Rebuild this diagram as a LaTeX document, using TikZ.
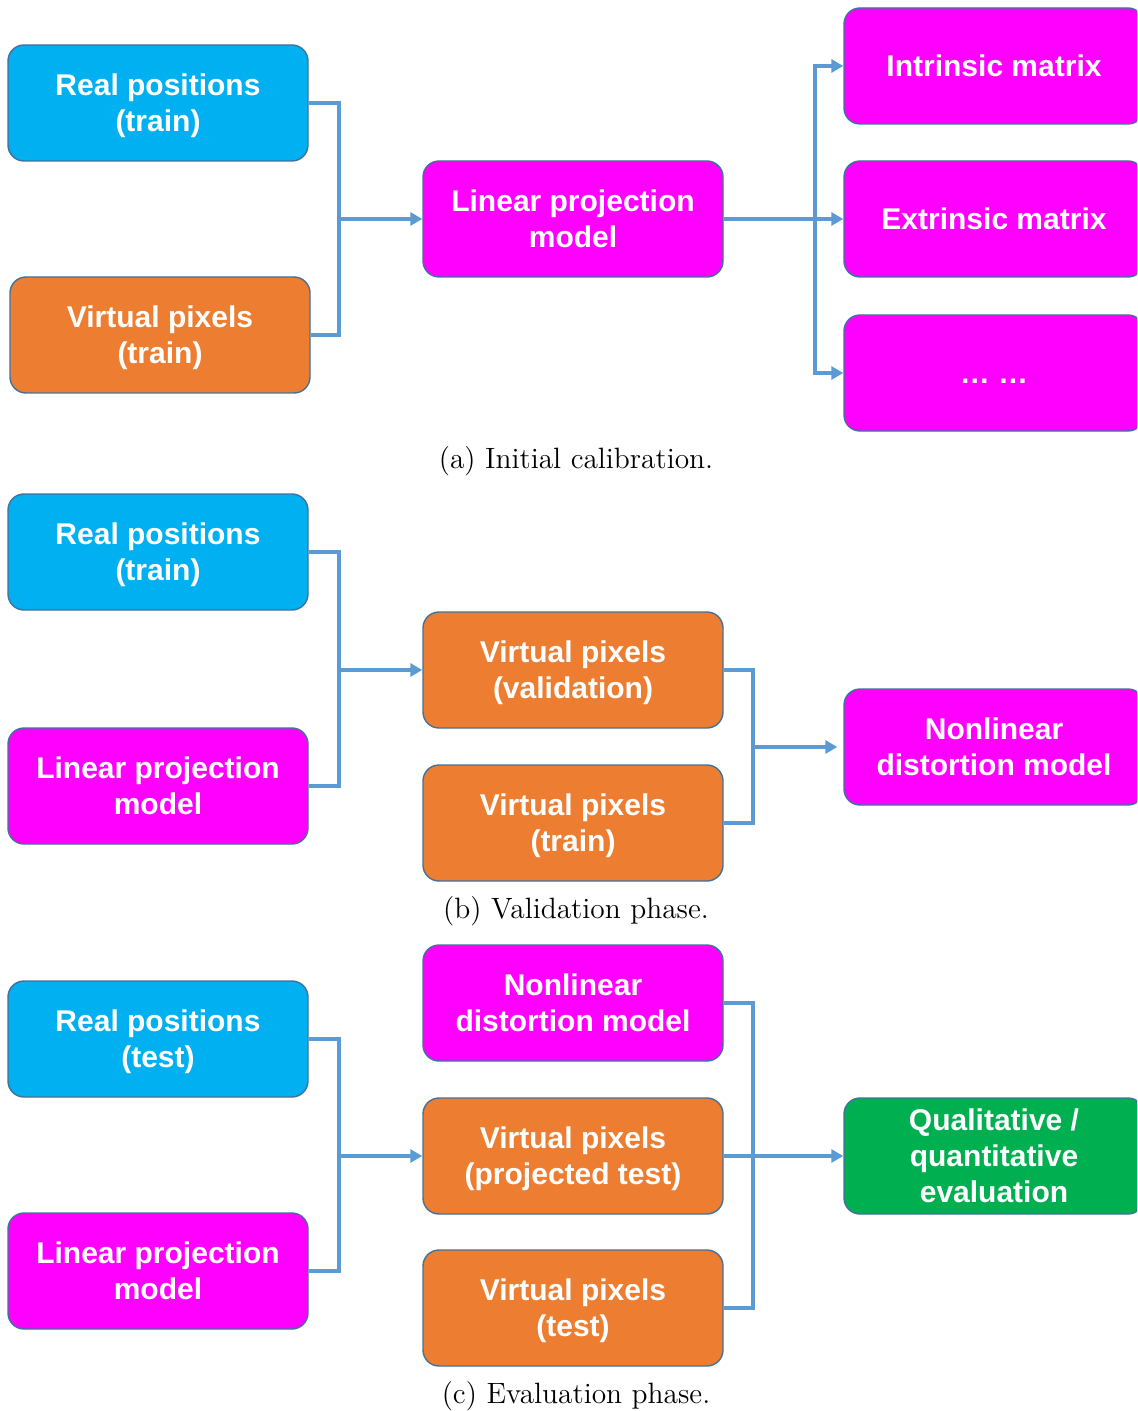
\documentclass[tikz,border=0pt]{standalone}
\usepackage{fontspec}
\setsansfont{Liberation Sans}
\usetikzlibrary{arrows.meta}
\definecolor{cblue}{HTML}{00B0F0}
\definecolor{corange}{HTML}{ED7D31}
\definecolor{cmag}{HTML}{FF00FF}
\definecolor{cgreen}{HTML}{00B050}
\definecolor{cline}{HTML}{5B9BD5}
\definecolor{cborder}{HTML}{41719C}
\newcommand{\bxs}{\rule[-3.6pt]{0pt}{18pt}}
\tikzset{
  box/.style={draw=cborder, line width=0.7pt, rounded corners=8pt, minimum width=150pt, minimum height=58pt,
    align=center, text=white, font=\sffamily\bfseries\fontsize{15}{18}\selectfont, inner sep=0pt},
  bluebox/.style={box, fill=cblue},
  orangebox/.style={box, fill=corange},
  magbox/.style={box, fill=cmag},
  greenbox/.style={box, fill=cgreen},
  conn/.style={draw=cline, line width=2pt, line join=miter},
  arr/.style={conn, -{Triangle[length=6pt,width=6.5pt]}},
  captext/.style={font=\fontsize{14.7}{17}\selectfont, inner sep=0pt}
}
\begin{document}
\begin{tikzpicture}[x=0.5pt,y=-0.5pt]
\useasboundingbox (0,0) rectangle (1137,1411);
\clip (0,0) rectangle (1137,1411);
% ---------- (a)
\node[bluebox] (rpa) at (158,103) {\bxs Real positions\\\bxs(train)};
\node[orangebox] (vpa) at (160,335) {\bxs Virtual pixels\\\bxs(train)};
\node[magbox] (lpa) at (573,219) {\bxs Linear projection\\\bxs model};
\node[magbox] (intr) at (994,66) {\bxs Intrinsic matrix};
\node[magbox] (extr) at (994,219) {\bxs Extrinsic matrix};
\node[magbox] (dots) at (994,373) {\bxs … …};
\coordinate (ja) at (339,219);
\coordinate (sa) at (815,219);
\draw[conn] (rpa.east) -| (ja) |- (vpa.east);
\draw[arr] (ja) -- (lpa.west);
\draw[arr] (lpa.east) -- (extr.west);
\draw[arr] (sa) |- (intr.west);
\draw[arr] (sa) |- (dots.west);
\node[captext] (capa) at (576,461) {(a) Initial calibration.};
% ---------- (b)
\node[bluebox] (rpb) at (158,552) {\bxs Real positions\\\bxs(train)};
\node[magbox] (lpb) at (158,786) {\bxs Linear projection\\\bxs model};
\node[orangebox] (vvb) at (573,670) {\bxs Virtual pixels\\\bxs(validation)};
\node[orangebox] (vtb) at (573,823) {\bxs Virtual pixels\\\bxs(train)};
\node[magbox] (nlb) at (994,747) {\bxs Nonlinear\\\bxs distortion model};
\coordinate (jb1) at (339,670);
\coordinate (jb2) at (753,747);
\draw[conn] (rpb.east) -| (jb1) |- (lpb.east);
\draw[arr] (jb1) -- (vvb.west);
\draw[conn] (vvb.east) -| (jb2) |- (vtb.east);
\draw[arr] (jb2) -- ([xshift=-3pt]nlb.west);
\node[captext] (capb) at (576,911) {(b) Validation phase.};
% ---------- (c)
\node[bluebox] (rpc) at (158,1039) {\bxs Real positions\\\bxs(test)};
\node[magbox] (lpc) at (158,1271) {\bxs Linear projection\\\bxs model};
\node[magbox] (nlc) at (573,1003) {\bxs Nonlinear\\\bxs distortion model};
\node[orangebox] (vpc) at (573,1156) {\bxs Virtual pixels\\\bxs(projected test)};
\node[orangebox] (vtc) at (573,1308) {\bxs Virtual pixels\\\bxs(test)};
\node[greenbox] (qc) at (994,1156) {\bxs Qualitative /\\\bxs quantitative\\\bxs evaluation};
\coordinate (jc1) at (339,1156);
\draw[conn] (rpc.east) -| (jc1) |- (lpc.east);
\draw[arr] (jc1) -- (vpc.west);
\draw[conn] (nlc.east) -| (753,1156) |- (vtc.east);
\draw[arr] (vpc.east) -- (qc.west);
\node[captext] (capc) at (576,1396) {(c) Evaluation phase.};
\end{tikzpicture}
\end{document}
